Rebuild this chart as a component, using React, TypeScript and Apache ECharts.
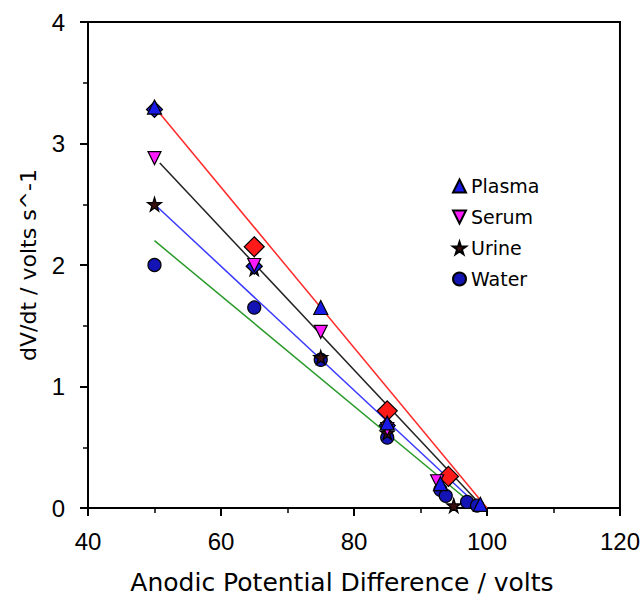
import { useEffect, useRef } from "react";
import * as echarts from "echarts";

const legendNames = ["Plasma", "Serum", "Urine", "Water"];
const xTicks = [40, 60, 80, 100, 120];
const yTicks = [0, 1, 2, 3, 4];

const plasmaData = [[50, 3.3], [75, 1.65], [85, 0.7], [93, 0.2], [99, 0.03]];
const serumData = [[50, 2.88], [65, 2.0], [75, 1.45], [85, 0.65], [92.5, 0.22]];
const urineData = [[50, 2.5], [65, 1.97], [75, 1.24], [85, 0.62], [95, 0.02]];
const waterData = [[50, 2.0], [65, 1.65], [75, 1.22], [85, 0.58], [93, 0.15], [93.8, 0.1], [97, 0.05], [98.5, 0.02]];
const fitMarkData = [[65, 2.15], [85, 0.8], [94.2, 0.26]];
const plasmaUnderData = [[50, 3.28], [65, 1.99], [85, 0.68]];

const fitRed = [[50, 3.3], [100, 0]];
const fitBlack = [[50.8, 2.84], [99.5, 0]];
const fitBlue = [[50, 2.5], [99, 0]];
const fitGreen = [[50, 2.2], [98.5, 0]];

const STAR =
  "path://M50,0 L61,35 L98,35 L68,57 L79,91 L50,70 L21,91 L32,57 L2,35 L39,35 Z";
const DOWN_TRI = "path://M0,0 L10,0 L5,10 Z";

export default function App() {
  const ref = useRef<HTMLDivElement>(null);
  useEffect(() => {
    document.body.style.margin = "0";
    if (!ref.current) return;
    const chart = echarts.init(ref.current, null, { renderer: "svg" });
    const fitLine = (data: number[][], color: string) => ({
      type: "line",
      data,
      showSymbol: false,
      symbol: "none",
      lineStyle: { color, width: 1.5 },
      z: 1,
      silent: true,
    });
    const border = { borderColor: "#000", borderWidth: 1.2, opacity: 1 };
    chart.setOption({
      animation: false,
      backgroundColor: "#fff",
      grid: {
        left: 88,
        right: 22,
        top: 22,
        bottom: 85,
        show: true,
        borderColor: "#000",
        borderWidth: 2,
        backgroundColor: "transparent",
      },
      legend: {
        orient: "vertical",
        left: 447,
        top: 171,
        itemWidth: 13,
        itemHeight: 13,
        itemGap: 11,
        data: legendNames,
        textStyle: {
          fontFamily: "DejaVu Sans",
          fontSize: 19,
          color: "#000",
          lineHeight: 20,
        },
      },
      xAxis: {
        type: "value",
        min: 40,
        max: 120,
        interval: 20,
        name: "Anodic Potential Difference / volts",
        nameLocation: "middle",
        nameGap: 62,
        nameTextStyle: {
          fontFamily: "DejaVu Sans",
          fontSize: 25,
          color: "#000",
          padding: [0, 24, 0, 0],
        },
        axisLine: { show: true, lineStyle: { color: "#000", width: 2 } },
        axisTick: { show: true, inside: false, length: 8, lineStyle: { color: "#000", width: 2 } },
        minorTick: { show: true, splitNumber: 2, length: 5, lineStyle: { color: "#000", width: 1.5 } },
        axisLabel: {
          margin: 21,
          fontFamily: "Liberation Sans",
          fontSize: 24,
          color: "#000",
          formatter: (v: number) => (xTicks.includes(v) ? String(v) : ""),
        },
        splitLine: { show: false },
      },
      yAxis: {
        type: "value",
        min: 0,
        max: 4,
        interval: 1,
        name: "dV/dt / volts s^-1",
        nameLocation: "middle",
        nameGap: 49,
        nameTextStyle: { fontFamily: "DejaVu Sans", fontSize: 22, color: "#000" },
        axisLine: { show: true, lineStyle: { color: "#000", width: 2 } },
        axisTick: { show: true, inside: false, length: 8, lineStyle: { color: "#000", width: 2 } },
        minorTick: { show: true, splitNumber: 2, length: 5, lineStyle: { color: "#000", width: 1.5 } },
        axisLabel: {
          margin: 23,
          fontFamily: "Liberation Sans",
          fontSize: 24,
          color: "#000",
          formatter: (v: number) => (yTicks.includes(v) ? String(v) : ""),
        },
        splitLine: { show: false },
      },
      series: [
        fitLine(fitGreen, "#2a9a2a"),
        fitLine(fitBlue, "#3a3aff"),
        fitLine(fitBlack, "#222"),
        fitLine(fitRed, "#ff2a2a"),
        {
          name: "Water",
          type: "scatter",
          data: waterData,
          symbol: "circle",
          symbolSize: 13,
          itemStyle: { color: "#1414b4", ...border },
          z: 3,
        },
        {
          name: "Urine",
          type: "scatter",
          data: urineData,
          symbol: STAR,
          symbolSize: 14,
          itemStyle: { color: "#3a1010", ...border },
          z: 4,
        },
        {
          name: "fitUnder",
          type: "scatter",
          data: plasmaUnderData,
          symbol: "diamond",
          symbolSize: 16,
          itemStyle: { color: "#1a1ae0", ...border },
          z: 4,
        },
        {
          name: "fitMarks",
          type: "scatter",
          data: fitMarkData,
          symbol: "diamond",
          symbolSize: 20,
          itemStyle: { color: "#ff1a1a", ...border },
          z: 5,
        },
        {
          name: "Serum",
          type: "scatter",
          data: serumData,
          symbol: DOWN_TRI,
          symbolSize: 13,
          itemStyle: { color: "#ff1aff", ...border },
          z: 6,
        },
        {
          name: "Plasma",
          type: "scatter",
          data: plasmaData,
          symbol: "triangle",
          symbolSize: 14,
          itemStyle: { color: "#1a1ae6", ...border },
          z: 7,
        },
      ],
    });
    return () => chart.dispose();
  }, []);
  return <div ref={ref} style={{ width: 643, height: 600 }} />;
}
